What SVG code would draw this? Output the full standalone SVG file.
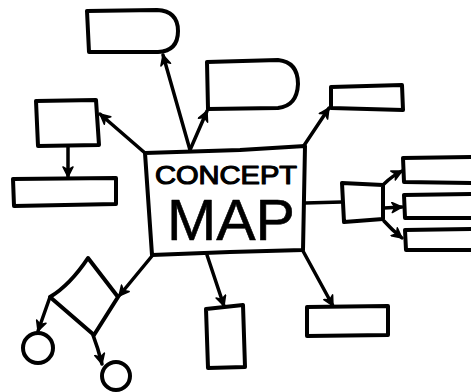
<svg xmlns="http://www.w3.org/2000/svg" width="471" height="392" viewBox="0 0 471 392">
<defs>
<marker id="ah" viewBox="0 0 12 12" refX="11" refY="6" markerWidth="12" markerHeight="12" markerUnits="userSpaceOnUse" orient="auto">
<path d="M1,1 L11,6 L1,11 L4,6 Z" fill="#000" stroke="#000" stroke-width="1.5" stroke-linejoin="round"/>
</marker>
</defs>
<style>
.s{fill:#fff;stroke:#000;stroke-width:4;stroke-linejoin:round;stroke-linecap:round}
.c{fill:none;stroke:#000;stroke-width:3.5;stroke-linecap:round;marker-end:url(#ah)}
.l{fill:none;stroke:#000;stroke-width:3.5;stroke-linecap:round}
.t{font-family:"Liberation Sans","DejaVu Sans",sans-serif;fill:#000;stroke:#000;stroke-linejoin:round}
</style>
<rect width="471" height="392" fill="#fff"/>
<g id="connectors">
<path class="c" d="M190,150 L163,55"/>
<path class="c" d="M190,150 L207,111"/>
<path class="c" d="M145,153 L100,114"/>
<path class="c" d="M68,146 L68,177"/>
<path class="c" d="M303,147 L329,108"/>
<path class="l" d="M305,203 L342,202"/>
<path class="c" d="M384,184 Q392,176 402,171"/>
<path class="c" d="M384,208 L402,207"/>
<path class="c" d="M384,221 Q392,230 402,238"/>
<path class="c" d="M303,251 L333,306"/>
<path class="c" d="M207,255 L224,306"/>
<path class="c" d="M152,256 L119,296"/>
<path class="c" d="M50,297 L38,331"/>
<path class="c" d="M93,335 Q98,348 102,364"/>
</g>
<g id="center">
<path class="s" d="M145,153 L240,150 L305,146 L303,250 L230,252 L152,255 Z"/>
<text class="t" x="155" y="184" font-size="26" stroke-width="1.2" textLength="142" lengthAdjust="spacingAndGlyphs">CONCEPT</text>
<text class="t" x="167" y="240" font-size="58" stroke-width="0.6" textLength="128" lengthAdjust="spacingAndGlyphs">MAP</text>
</g>
<g id="d1"><path class="s" d="M87,11 L157,10 Q178,11 178,31 Q178,51 158,52 L89,52 Z"/></g>
<g id="d2"><path class="s" d="M207,62 L278,60 Q298,62 298,84 Q297,106 278,108 L208,109 Z"/></g>
<g id="box-left"><path class="s" d="M36,101 L96,100 L99,145 L38,146 Z"/></g>
<g id="rect-left"><path class="s" d="M13,179 L116,178 L116,204 L14,206 Z"/></g>
<g id="rect-topright"><path class="s" d="M331,87 L402,85 L403,110 L331,108 Z"/></g>
<g id="box-right"><path class="s" d="M342,183 L383,185 L383,219 L344,222 Z"/></g>
<g id="rect-r1"><path class="s" d="M403,158 L475,157 L475,183 L404,182 Z"/></g>
<g id="rect-r2"><path class="s" d="M404,195 L475,194 L475,218 L405,218 Z"/></g>
<g id="rect-r3"><path class="s" d="M405,230 L475,229 L475,250 L406,250 Z"/></g>
<g id="rect-bottomright"><path class="s" d="M307,307 L388,306 L388,335 L307,336 Z"/></g>
<g id="rect-bottom"><path class="s" d="M206,309 L243,305 L245,367 L208,368 Z"/></g>
<g id="diamond"><path class="s" d="M88,258 L118,297 L94,335 L50,297 Q70,285 88,258 Z"/></g>
<g id="circle1"><circle class="s" cx="38" cy="348" r="15"/></g>
<g id="circle2"><circle class="s" cx="116" cy="376" r="14"/></g>
</svg>
